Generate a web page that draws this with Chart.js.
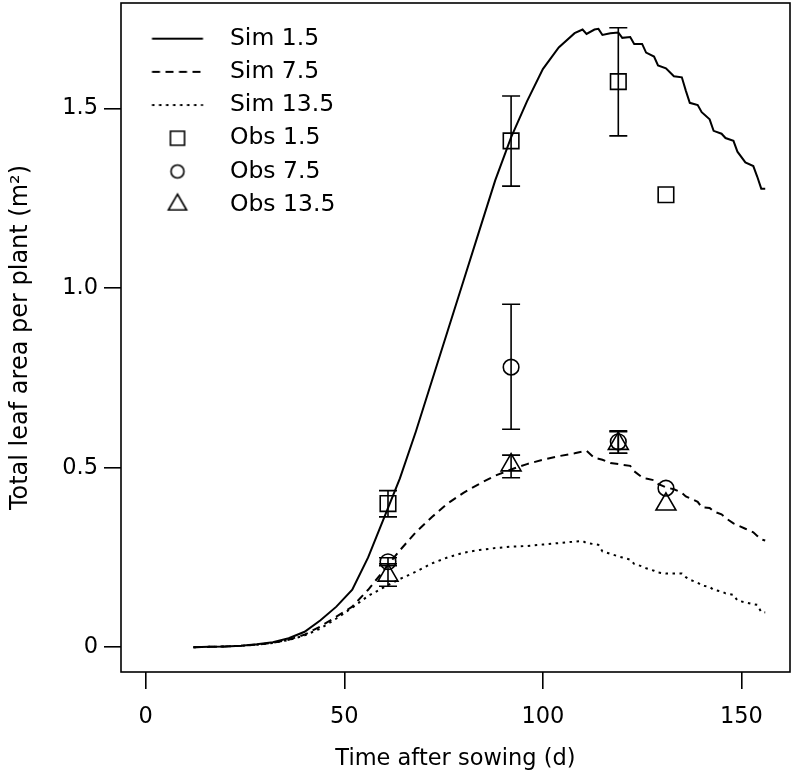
<!DOCTYPE html>
<html>
<head>
<meta charset="utf-8">
<script src="https://cdn.jsdelivr.net/npm/chart.js@4.4.1/dist/chart.umd.min.js"></script>
<style>
  html, body { margin: 0; padding: 0; background: #fff; }
</style>
</head>
<body>
<canvas id="myChart" width="793" height="777"></canvas>
<script>
// simulated days (daily output, thinned where the curves are smooth)
const simDays = [12, 16, 20, 24, 28, 32, 36, 40, 44, 48, 52, 56, 60, 64, 68, 72, 76, 80, 84, 88, 92, 96, 100, 104, 108, 110, 111, 113, 114, 115, 117, 119, 120, 122, 123, 125, 126, 128, 129, 131, 133, 135, 136, 137, 139, 140, 142, 143, 145, 146, 148, 149, 151, 153, 154, 155, 156];
const sim15 = [0, 0.001, 0.002, 0.004, 0.008, 0.014, 0.025, 0.043, 0.075, 0.113, 0.16, 0.25, 0.36, 0.47, 0.60, 0.74, 0.88, 1.02, 1.16, 1.30, 1.42, 1.52, 1.61, 1.67, 1.71, 1.72, 1.708, 1.72, 1.722, 1.705, 1.71, 1.712, 1.697, 1.699, 1.68, 1.68, 1.656, 1.645, 1.62, 1.612, 1.59, 1.587, 1.55, 1.516, 1.51, 1.49, 1.47, 1.438, 1.43, 1.418, 1.41, 1.38, 1.35, 1.34, 1.31, 1.277, 1.277];
const sim75 = [0, 0.001, 0.002, 0.004, 0.007, 0.012, 0.021, 0.035, 0.058, 0.085, 0.113, 0.16, 0.215, 0.27, 0.32, 0.362, 0.40, 0.43, 0.455, 0.478, 0.495, 0.51, 0.522, 0.532, 0.54, 0.545, 0.547, 0.527, 0.525, 0.522, 0.513, 0.51, 0.508, 0.505, 0.49, 0.473, 0.47, 0.465, 0.455, 0.445, 0.44, 0.43, 0.42, 0.415, 0.405, 0.39, 0.388, 0.378, 0.37, 0.36, 0.345, 0.34, 0.33, 0.32, 0.31, 0.30, 0.297];
const sim135 = [0, 0.001, 0.002, 0.004, 0.007, 0.012, 0.02, 0.033, 0.052, 0.08, 0.11, 0.143, 0.167, 0.19, 0.21, 0.233, 0.25, 0.263, 0.271, 0.276, 0.28, 0.282, 0.286, 0.29, 0.294, 0.296, 0.29, 0.287, 0.285, 0.267, 0.26, 0.253, 0.25, 0.244, 0.232, 0.225, 0.22, 0.213, 0.208, 0.205, 0.205, 0.205, 0.195, 0.188, 0.18, 0.172, 0.168, 0.16, 0.155, 0.15, 0.146, 0.13, 0.125, 0.12, 0.118, 0.098, 0.097];

// observations (mean, lower and upper end of error bar)
const obsDays = [61, 92, 119, 131];
const obs15 = [0.40, 1.41, 1.575, 1.26];
const obs15Lo = [0.363, 1.284, 1.424, null];
const obs15Hi = [0.436, 1.535, 1.725, null];
const obs75 = [0.238, 0.78, 0.572, 0.443];
const obs75Lo = [0.227, 0.607, 0.540, null];
const obs75Hi = [0.249, 0.955, 0.603, null];
const obs135 = [0.200, 0.507, 0.567, 0.398];
const obs135Lo = [0.170, 0.472, 0.540, null];
const obs135Hi = [0.232, 0.535, 0.600, null];

const xTicks = [0, 50, 100, 150];
const yTicks = [0, 0.5, 1.0, 1.5];
const yTickLabels = ['0', '0.5', '1.0', '1.5'];

const pts = (xs, ys) => xs.map((d, i) => ({x: d, y: ys[i]}));

const FS = 22.5;
Chart.defaults.font.family = '"DejaVu Sans", Arial, sans-serif';
Chart.defaults.font.size = FS;
Chart.defaults.color = '#000';

// the big markers would otherwise push the plot area in from the top/right
Chart.ScatterController.prototype.getMaxOverflow = function () { return 0; };

// small pictures for the legend entries (drawn a little right of centre)
function icon(draw) {
    const c = document.createElement('canvas');
    c.width = 64; c.height = 26;
    const g = c.getContext('2d');
    g.strokeStyle = '#000';
    g.fillStyle = 'rgba(0,0,0,0)';
    g.lineWidth = 1.6;
    draw(g, 32 + 3, 13);
    return c;
}
function lineIcon(dash) {
    return icon((g, cx, cy) => {
        g.lineWidth = 2;
        g.setLineDash(dash);
        g.beginPath(); g.moveTo(cx - 25.5, cy); g.lineTo(cx + 25.5, cy); g.stroke();
    });
}
function pointIcon(style, r) {
    return icon((g, cx, cy) => Chart.helpers.drawPoint(g, {pointStyle: style, radius: r, borderWidth: 1.6, rotation: 0}, cx, cy));
}
const legendIcons = [
    lineIcon([]), lineIcon([8, 5.5]), lineIcon([2.5, 4.5]),
    pointIcon('rect', 10), pointIcon('circle', 6.5), pointIcon('triangle', 10.5)
];

const errSets = [
    {lo: obs15Lo, hi: obs15Hi},
    {lo: obs75Lo, hi: obs75Hi},
    {lo: obs135Lo, hi: obs135Hi}
];

const errorBars = {
    id: 'errorBars',
    afterDatasetsDraw(chart) {
        const {ctx, scales: {x, y}} = chart;
        ctx.save();
        ctx.strokeStyle = '#000';
        ctx.lineWidth = 1.6;
        errSets.forEach(set => {
            obsDays.forEach((d, i) => {
                if (set.lo[i] == null) return;
                const px = x.getPixelForValue(d);
                const y1 = y.getPixelForValue(set.lo[i]);
                const y2 = y.getPixelForValue(set.hi[i]);
                ctx.beginPath();
                ctx.moveTo(px, y1); ctx.lineTo(px, y2);
                ctx.moveTo(px - 9, y1); ctx.lineTo(px + 9, y1);
                ctx.moveTo(px - 9, y2); ctx.lineTo(px + 9, y2);
                ctx.stroke();
            });
        });
        ctx.restore();
    }
};

// R style box round the plot region
const plotBox = {
    id: 'plotBox',
    afterDatasetsDraw(chart) {
        const a = chart.chartArea;
        const ctx = chart.ctx;
        ctx.save();
        ctx.strokeStyle = '#000';
        ctx.lineWidth = 1.6;
        ctx.strokeRect(a.left, a.top, a.right - a.left, a.bottom - a.top);
        ctx.restore();
    }
};

const lineSet = (label, ys, dash) => ({
    label: label,
    data: pts(simDays, ys),
    showLine: true,
    borderColor: '#000',
    borderWidth: 2,
    borderDash: dash,
    pointRadius: 0,
    tension: 0,
    fill: false
});
const obsSet = (label, ys, style, r) => ({
    label: label,
    data: pts(obsDays, ys),
    showLine: false,
    pointStyle: style,
    pointRadius: r,
    borderColor: '#000',
    backgroundColor: 'rgba(0,0,0,0)',
    borderWidth: 1.6
});

// fixed axis sizes, no extra room for end labels
const noPad = s => { s.paddingLeft = 0; s.paddingRight = 0; s.paddingTop = 0; s.paddingBottom = 0; };

const ctx = document.getElementById('myChart').getContext('2d');
const myChart = new Chart(ctx, {
    type: 'scatter',
    data: {
        datasets: [
            lineSet('Sim 1.5', sim15, []),
            lineSet('Sim 7.5', sim75, [8, 5.5]),
            lineSet('Sim 13.5', sim135, [2.5, 4.5]),
            obsSet('Obs 1.5', obs15, 'rect', 11),
            obsSet('Obs 7.5', obs75, 'circle', 7.8),
            obsSet('Obs 13.5', obs135, 'triangle', 11.5)
        ]
    },
    options: {
        responsive: false,
        animation: false,
        devicePixelRatio: 1,
        layout: { padding: { top: 3, right: 3, left: 0, bottom: 0 } },
        plugins: {
            tooltip: { enabled: false },
            legend: {
                position: 'chartArea',
                align: 'start',
                title: { display: true, text: ' ', font: { size: 1 }, padding: { top: 8, bottom: 8 } },
                labels: {
                    usePointStyle: true,
                    pointStyleWidth: 87.5,
                    padding: 9.7,
                    color: '#000',
                    font: { size: 23.5 },
                    generateLabels(chart) {
                        return chart.data.datasets.map((ds, i) => ({
                            text: ds.label,
                            datasetIndex: i,
                            pointStyle: legendIcons[i],
                            fillStyle: 'rgba(0,0,0,0)',
                            strokeStyle: '#000',
                            lineWidth: 0,
                            fontColor: '#000',
                            hidden: false
                        }));
                    }
                }
            }
        },
        scales: {
            x: {
                type: 'linear',
                min: -6.24,
                max: 162.24,
                afterBuildTicks: s => { s.ticks = xTicks.map(v => ({value: v})); },
                afterFit: s => { s.height = 105; noPad(s); },
                border: { display: false },
                grid: { display: true, drawOnChartArea: false, drawTicks: true, tickLength: 17, color: '#000', lineWidth: 1.6 },
                ticks: { padding: 14.5, color: '#000', font: { size: FS }, maxRotation: 0 },
                title: { display: true, text: 'Time after sowing (d)', color: '#000', font: { size: FS }, padding: { top: 0, bottom: 4.5 } }
            },
            y: {
                type: 'linear',
                min: -0.069,
                max: 1.794,
                afterBuildTicks: s => { s.ticks = yTicks.map(v => ({value: v})); },
                afterFit: s => { s.width = 121; noPad(s); },
                border: { display: false },
                grid: { display: true, drawOnChartArea: false, drawTicks: true, tickLength: 17, color: '#000', lineWidth: 1.6 },
                ticks: {
                    padding: 6, color: '#000', font: { size: FS },
                    callback: v => yTickLabels[yTicks.indexOf(v)]
                },
                title: { display: true, text: 'Total leaf area per plant (m²)', color: '#000', font: { size: 24 }, padding: { top: 6.5, bottom: 0 } }
            }
        }
    },
    plugins: [errorBars, plotBox]
});
</script>
</body>
</html>
